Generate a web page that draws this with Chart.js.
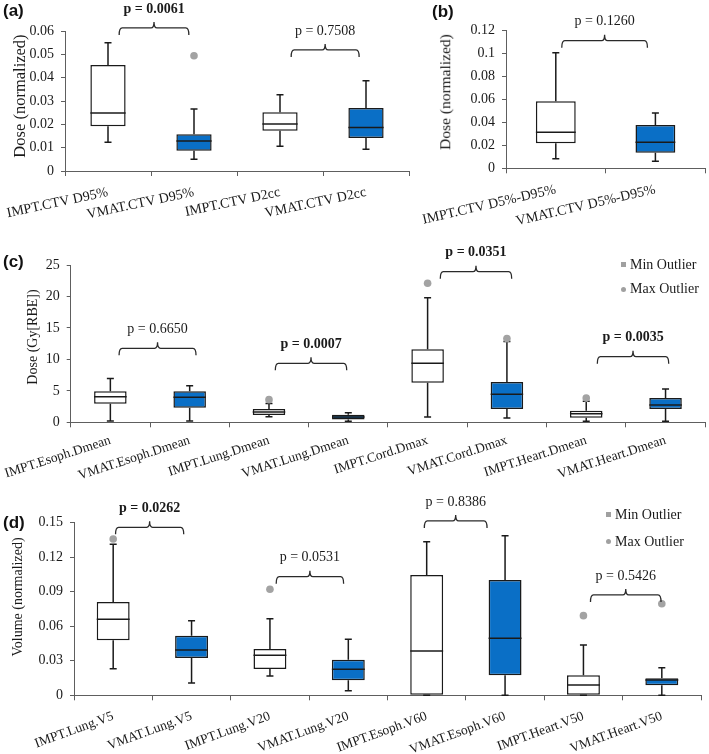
<!DOCTYPE html>
<html><head><meta charset="utf-8">
<script src="https://cdn.jsdelivr.net/npm/chart.js@4/dist/chart.umd.min.js"></script>
<style>
html,body{margin:0;padding:0;background:#fff;}
body{width:709px;height:754px;position:relative;overflow:hidden;font-family:"Liberation Serif","Times New Roman",serif;color:#1a1a1a;}
canvas{position:absolute;display:block;}
.lab{position:absolute;font:bold 17px "Liberation Sans",Arial,sans-serif;color:#111;line-height:18px;}
.yt{position:absolute;transform:translate(-50%,-50%) rotate(-90deg);white-space:nowrap;line-height:1;color:#1a1a1a;}
.leg{position:absolute;font-size:14px;line-height:16px;white-space:nowrap;color:#1a1a1a;}
.sq{position:absolute;width:5px;height:5px;background:#a0a0a0;}
.dot{position:absolute;width:5px;height:5px;border-radius:50%;background:#a0a0a0;}
</style></head><body>

<canvas id="cA" width="420" height="232" style="left:0;top:0"></canvas>
<canvas id="cB" width="289" height="232" style="left:420px;top:0"></canvas>
<canvas id="cC" width="709" height="266" style="left:0;top:232px"></canvas>
<canvas id="cD" width="709" height="276" style="left:0;top:478px"></canvas>

<div class="lab" style="left:3px;top:2px">(a)</div>
<div class="lab" style="left:432px;top:3px">(b)</div>
<div class="lab" style="left:3px;top:253px">(c)</div>
<div class="lab" style="left:3px;top:514px">(d)</div>

<div class="yt" style="left:20px;top:96px;font-size:16.5px">Dose (normalized)</div>
<div class="yt" style="left:445px;top:92px;font-size:15.5px">Dose (normalized)</div>
<div class="yt" style="left:33px;top:337px;font-size:14px">Dose (Gy[RBE])</div>
<div class="yt" style="left:18px;top:597px;font-size:14px">Volume (normalized)</div>

<div class="sq" style="left:621px;top:262px"></div>
<div class="leg" style="left:630px;top:257px">Min Outlier</div>
<div class="dot" style="left:621px;top:287px"></div>
<div class="leg" style="left:630px;top:281px">Max Outlier</div>

<div class="sq" style="left:606px;top:512px"></div>
<div class="leg" style="left:615px;top:507px">Min Outlier</div>
<div class="dot" style="left:606px;top:539px"></div>
<div class="leg" style="left:615px;top:534px">Max Outlier</div>

<script>
// ---------- DATA ----------
// Panel (a)
const catsA = ['IMPT.CTV D95%','VMAT.CTV D95%','IMPT.CTV D2cc','VMAT.CTV D2cc'];
const minA = [0.0123, 0.0050, 0.0106, 0.0093];
const q1A  = [0.0192, 0.0087, 0.0173, 0.0141];
const medA = [0.0249, 0.0129, 0.0201, 0.0186];
const q3A  = [0.0454, 0.0157, 0.0252, 0.0270];
const maxA = [0.0550, 0.0266, 0.0327, 0.0387];
const outA = [null, 0.0494, null, null];
const ticksA = [0, 0.01, 0.02, 0.03, 0.04, 0.05, 0.06];
const pA = [
  {a:0.13, b:0.94, at:0.0613, text:'p = 0.0061', bold:true},
  {a:2.13, b:2.92, at:0.0519, text:'p = 0.7508', bold:false}
];

// Panel (b)
const catsB = ['IMPT.CTV D5%-D95%','VMAT.CTV D5%-D95%'];
const minB = [0.0084, 0.0061];
const q1B  = [0.0218, 0.0136];
const medB = [0.0314, 0.0227];
const q3B  = [0.0584, 0.0378];
const maxB = [0.1008, 0.0482];
const outB = [null, null];
const ticksB = [0, 0.02, 0.04, 0.06, 0.08, 0.1, 0.12];
const pB = [
  {a:0.06, b:0.92, at:0.1113, text:'p = 0.1260', bold:false}
];

// Panel (c)
const catsC = ['IMPT.Esoph.Dmean','VMAT.Esoph.Dmean','IMPT.Lung.Dmean','VMAT.Lung.Dmean','IMPT.Cord.Dmax','VMAT.Cord.Dmax','IMPT.Heart.Dmean','VMAT.Heart.Dmean'];
const minC = [0.2, 0.2, 0.9, 0.15, 0.85, 0.7, 0.15, 0.15];
const q1C  = [2.95, 2.3, 1.15, 0.45, 6.3, 2.1, 0.72, 2.1];
const medC = [4.05, 4.0, 1.65, 0.85, 9.4, 4.45, 1.35, 2.75];
const q3C  = [4.95, 4.95, 2.1, 1.2, 11.6, 6.4, 1.85, 3.85];
const maxC = [6.95, 5.8, 3.0, 1.5, 19.8, 12.85, 3.35, 5.3];
const outC = [null, null, 3.6, null, 22.1, 13.3, 3.85, null];
const ticksC = [0, 5, 10, 15, 20, 25];
const pC = [
  {a:0.11, b:1.08, at:11.76, text:'p = 0.6650', bold:false},
  {a:2.08, b:2.98, at:9.38,  text:'p = 0.0007', bold:true},
  {a:4.16, b:5.06, at:23.94, text:'p = 0.0351', bold:true},
  {a:6.14, b:7.04, at:10.43, text:'p = 0.0035', bold:true}
];

// Panel (d)
const catsD = ['IMPT.Lung.V5','VMAT.Lung.V5','IMPT.Lung.V20','VMAT.Lung.V20','IMPT.Esoph.V60','VMAT.Esoph.V60','IMPT.Heart.V50','VMAT.Heart.V50'];
const minD = [0.0231, 0.0107, 0.0168, 0.0040, 0, 0, 0, 0];
const q1D  = [0.0478, 0.0324, 0.0229, 0.0130, 0, 0.0174, 0, 0.0087];
const medD = [0.0660, 0.0394, 0.0348, 0.0226, 0.0385, 0.0495, 0.0090, 0.0133];
const q3D  = [0.0811, 0.0518, 0.0402, 0.0310, 0.1045, 0.1002, 0.0174, 0.0148];
const maxD = [0.1312, 0.0648, 0.0666, 0.0487, 0.1335, 0.1387, 0.0437, 0.0240];
const outD = [0.1358, null, 0.0921, null, null, null, 0.0692, 0.0796];
const ticksD = [0, 0.03, 0.06, 0.09, 0.12, 0.15];
const pD = [
  {a:0.03, b:0.90, at:0.1460, text:'p = 0.0262', bold:true},
  {a:2.08, b:2.94, at:0.1031, text:'p = 0.0531', bold:false},
  {a:3.97, b:4.77, at:0.1515, text:'p = 0.8386', bold:false},
  {a:6.09, b:6.99, at:0.0872, text:'p = 0.5426', bold:false}
];

// ---------- STYLE ----------
const BLUE = '#0a6fc6';
const EDGE = '#1a1a1a';
const AXIS = '#5e5e5e';
const TXT  = '#1a1a1a';
const OUTC = '#a3a3a3';
const SERIF = '"Liberation Serif","Times New Roman",serif';

Chart.defaults.font.family = SERIF;
Chart.defaults.font.size = 14;
Chart.defaults.color = TXT;

function fmt(v){ return String(+(+v).toFixed(3)); }

function boxPlugin(d){
  return {
    id:'boxdraw',
    beforeDatasetsDraw(chart){
      const ctx = chart.ctx, ys = chart.scales.y;
      const meta = chart.getDatasetMeta(0);
      ctx.save();
      ctx.strokeStyle = EDGE; ctx.lineWidth = 1.5;
      d.min.forEach((mn,i)=>{
        const bar = meta.data[i]; const cx = bar.x;
        const yMax = ys.getPixelForValue(d.max[i]), yQ3 = ys.getPixelForValue(d.q3[i]);
        const yMin = ys.getPixelForValue(mn), yQ1 = ys.getPixelForValue(d.q1[i]);
        ctx.beginPath();
        ctx.moveTo(cx, yQ3); ctx.lineTo(cx, yMax);
        ctx.moveTo(cx-3.5, yMax); ctx.lineTo(cx+3.5, yMax);
        ctx.moveTo(cx, yQ1); ctx.lineTo(cx, yMin);
        ctx.moveTo(cx-3.5, yMin); ctx.lineTo(cx+3.5, yMin);
        ctx.stroke();
      });
      ctx.restore();
    },
    afterDatasetsDraw(chart){
      const ctx = chart.ctx, ys = chart.scales.y, xs = chart.scales.x;
      const meta = chart.getDatasetMeta(0);
      ctx.save();
      ctx.strokeStyle = EDGE; ctx.lineWidth = 1.5;
      d.med.forEach((m,i)=>{
        const bar = meta.data[i]; const hw = bar.width/2;
        const y = ys.getPixelForValue(m);
        ctx.beginPath(); ctx.moveTo(bar.x-hw, y); ctx.lineTo(bar.x+hw, y); ctx.stroke();
      });
      // brackets with p-values
      ctx.strokeStyle = '#2a2a2a'; ctx.lineWidth = 1.3;
      d.p.forEach(b=>{
        const x1 = xs.getPixelForValue(b.a), x2 = xs.getPixelForValue(b.b), xm = (x1+x2)/2;
        const yy = ys.getPixelForValue(b.at);
        ctx.beginPath();
        ctx.moveTo(x1, yy+7); ctx.quadraticCurveTo(x1, yy, x1+3, yy);
        ctx.lineTo(xm-3, yy); ctx.quadraticCurveTo(xm, yy, xm, yy-6);
        ctx.quadraticCurveTo(xm, yy, xm+3, yy);
        ctx.lineTo(x2-3, yy); ctx.quadraticCurveTo(x2, yy, x2, yy+7);
        ctx.stroke();
        ctx.fillStyle = TXT;
        ctx.font = (b.bold ? 'bold ' : '') + '14px ' + SERIF;
        ctx.textAlign = 'center'; ctx.textBaseline = 'middle';
        ctx.fillText(b.text, xm, yy-19);
      });
      ctx.restore();
    }
  };
}

function makeChart(id, d, g){
  const fills = d.cats.map(c => c.startsWith('VMAT') ? BLUE : '#ffffff');
  return new Chart(document.getElementById(id), {
    data:{
      labels: d.cats,
      datasets:[
        { type:'bar', data: d.q1.map((v,i)=>[v, d.q3[i]]),
          backgroundColor: fills, borderColor: EDGE, borderWidth: 1.5, borderSkipped:false,
          barPercentage: g.bw, categoryPercentage: 1, order: 2 },
        { type:'line', data: d.out, showLine:false, pointRadius: 3.8, pointHoverRadius: 3.8,
          pointBackgroundColor: OUTC, pointBorderWidth: 0, pointBorderColor: OUTC, order: 1 }
      ]
    },
    options:{
      responsive:false, animation:false, events:[],
      layout:{ padding:{ left:0, right:g.pr, top:g.pt, bottom:0 } },
      plugins:{ legend:{display:false}, tooltip:{enabled:false} },
      scales:{
        x:{ type:'category', offset:true,
          grid:{ offset:true, drawOnChartArea:false, drawTicks:true, tickLength:5, color:AXIS },
          border:{ display:true, color:AXIS, width:1 },
          ticks:{ autoSkip:false, minRotation:g.rot, maxRotation:g.rot, padding:g.xp, color:TXT, font:{size:g.xf} },
          afterFit: s => { s.height = g.xh; s.paddingLeft = 0; s.paddingRight = 0; }
        },
        y:{ type:'linear', min: d.ticks[0], max: d.ticks[d.ticks.length-1],
          afterBuildTicks: s => { s.ticks = d.ticks.map(v => ({value:v})); },
          grid:{ display:true, drawOnChartArea:false, drawTicks:true, tickLength:4, color:AXIS },
          border:{ display:true, color:AXIS, width:1 },
          ticks:{ padding:7, color:TXT, font:{size:14}, callback: v => fmt(v) },
          afterFit: s => { s.width = g.yw; s.paddingTop = 0; s.paddingBottom = 0; s.paddingLeft = 0; s.paddingRight = 0; }
        }
      }
    },
    plugins:[ boxPlugin(d) ]
  });
}

makeChart('cA', {cats:catsA, min:minA, q1:q1A, med:medA, q3:q3A, max:maxA, out:outA, ticks:ticksA, p:pA},
  {yw:65, pr:11, pt:31, xh:61, rot:12, xp:8, xf:14, bw:0.41});
makeChart('cB', {cats:catsB, min:minB, q1:q1B, med:medB, q3:q3B, max:maxB, out:outB, ticks:ticksB, p:pB},
  {yw:86, pr:1, pt:30.7, xh:63.7, rot:13, xp:8, xf:14, bw:0.4});
makeChart('cC', {cats:catsC, min:minC, q1:q1C, med:medC, q3:q3C, max:maxC, out:outC, ticks:ticksC, p:pC},
  {yw:70.7, pr:3.5, pt:33, xh:75.7, rot:18, xp:5, xf:13.5, bw:0.41});
makeChart('cD', {cats:catsD, min:minD, q1:q1D, med:medD, q3:q3D, max:maxD, out:outD, ticks:ticksD, p:pD},
  {yw:74, pr:8, pt:44.7, xh:58.7, rot:20, xp:8, xf:13.5, bw:0.42});
</script>
</body></html>
